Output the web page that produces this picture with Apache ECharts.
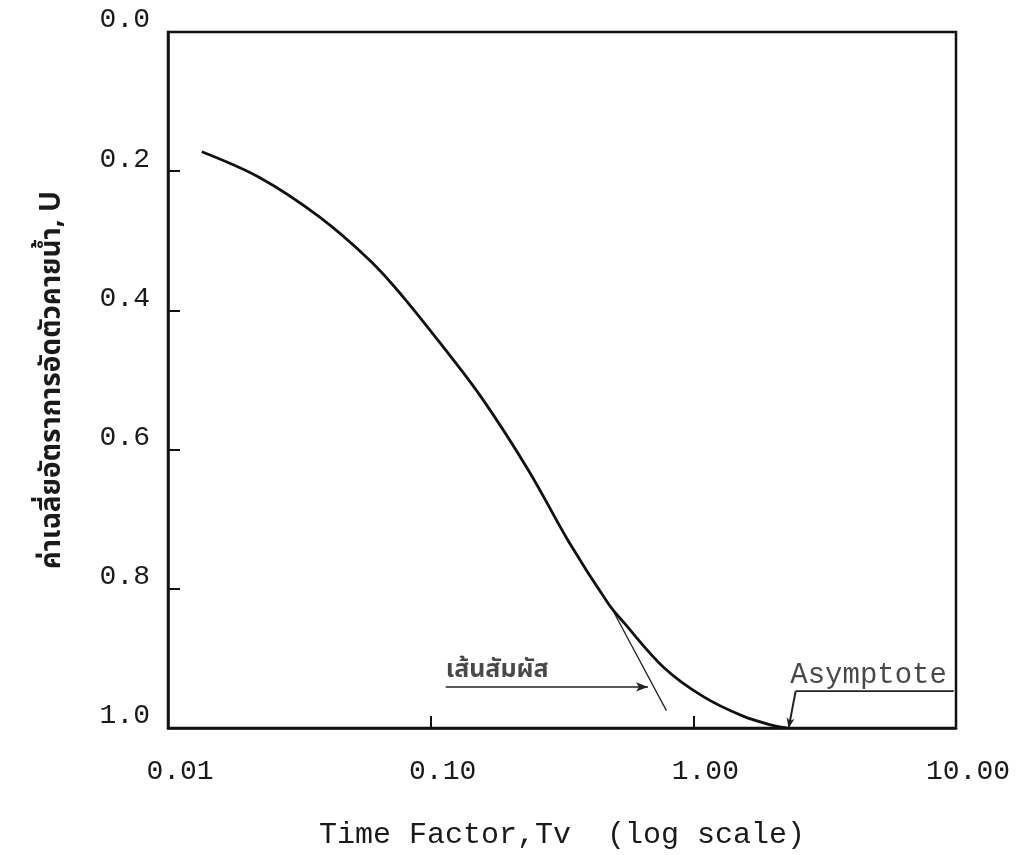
<!DOCTYPE html>
<html>
<head>
<meta charset="utf-8">
<title>Time Factor vs U</title>
<script src="https://cdn.jsdelivr.net/npm/echarts@6/dist/echarts.min.js"></script>
<style>
  html, body { margin: 0; padding: 0; background: #fff; }
  #chart { width: 1024px; height: 855px; }
</style>
</head>
<body>
<div id="chart"></div>
<script>
// degree of consolidation curve
var tvValues = [0.01345, 0.0223, 0.0375, 0.0590, 0.0779, 0.1103, 0.156, 0.2368, 0.3351, 0.4742, 0.5452, 0.7718, 1.092, 1.547, 2.041, 2.265]
var uValues = [0.172, 0.209, 0.265, 0.329, 0.379, 0.450, 0.525, 0.631, 0.732, 0.821, 0.849, 0.913, 0.955, 0.983, 0.997, 1.0]

// tangent (เส้นสัมผัส)
var tangentTv = [0.4825, 0.79]
var tangentU = [0.824, 0.975]

// pointer to the tangent
var tangentArrowTv = [0.1141, 0.672]
var tangentArrowU = [0.941, 0.941]
var tangentLabelTv = 0.1141
var tangentLabelU = 0.92

// asymptote pointer
var asymLineTv = [9.8, 2.452]
var asymLineU = [0.947, 0.947]
var asymArrowTv = [2.452, 2.306]
var asymArrowU = [0.947, 1.0]
var asymLabelTv = 2.339
var asymLabelU = 0.924

var xTicks = ['0.01', '0.10', '1.00', '10.00']
var yTicks = ['0.0', '0.2', '0.4', '0.6', '0.8', '1.0']

var monoFont = '"Liberation Mono", "DejaVu Sans Mono", monospace'
var thaiFont = '"Noto Sans Thai", "Loma", "Garuda", "Tlwg Typo", "Norasi", "DejaVu Sans", sans-serif'

function pairs(xs, ys) {
  return xs.map(function (x, i) { return [x, ys[i]] })
}

var chart = echarts.init(document.getElementById('chart'), null, { renderer: 'canvas' })

var option = {
  backgroundColor: '#fff',
  animation: false,
  grid: {
    left: 168,
    right: 68,
    top: 32,
    bottom: 125,
    show: true,
    borderColor: '#111',
    borderWidth: 2.5
  },
  xAxis: {
    type: 'log',
    logBase: 10,
    min: 0.01,
    max: 10,
    position: 'bottom',
    name: 'Time Factor,Tv  (log scale)',
    nameLocation: 'middle',
    nameGap: 92,
    nameTextStyle: { fontFamily: monoFont, fontSize: 30, color: '#1a1a1a' },
    axisLine: { onZero: false, lineStyle: { color: '#111', width: 2.5 } },
    axisTick: { inside: true, length: 12, lineStyle: { color: '#111', width: 2 } },
    minorTick: { show: false },
    splitLine: { show: false },
    axisLabel: {
      margin: 30,
      padding: [0, 0, 0, 24],
      fontFamily: monoFont,
      fontSize: 28,
      color: '#1a1a1a',
      showMinLabel: true,
      showMaxLabel: true,
      formatter: function (v) {
        var i = Math.round(Math.log10(v)) + 2
        return xTicks[i] || ''
      }
    }
  },
  yAxis: {
    type: 'value',
    inverse: true,
    min: 0,
    max: 1,
    interval: 0.2,
    name: 'ค่าเฉลี่ยอัตราการอัดตัวคายน้ำ, U',
    nameLocation: 'middle',
    nameGap: 100,
    nameTextStyle: { fontFamily: thaiFont, fontSize: 28, fontWeight: 'bold', color: '#1a1a1a' },
    axisLine: { onZero: false, lineStyle: { color: '#111', width: 2.5 } },
    axisTick: { inside: true, length: 12, lineStyle: { color: '#111', width: 2 } },
    splitLine: { show: false },
    axisLabel: {
      margin: 18,
      verticalAlign: 'bottom',
      lineHeight: 24,
      fontFamily: monoFont,
      fontSize: 28,
      color: '#1a1a1a',
      formatter: function (v) {
        return yTicks[Math.round(v / 0.2)]
      }
    }
  },
  series: [
    {
      name: 'U',
      type: 'line',
      smooth: 0.35,
      showSymbol: false,
      data: pairs(tvValues, uValues),
      lineStyle: { color: '#111', width: 2.8 },
      z: 5
    },
    {
      name: 'tangent',
      type: 'line',
      showSymbol: false,
      data: pairs(tangentTv, tangentU),
      lineStyle: { color: '#222', width: 1.3 }
    },
    {
      name: 'tangentArrow',
      type: 'line',
      showSymbol: false,
      data: [],
      markLine: {
        silent: true,
        symbol: ['none', 'arrow'],
        symbolSize: [7, 12],
        label: { show: false },
        lineStyle: { color: '#222', width: 1.6, type: 'solid' },
        data: [[
          { coord: [tangentArrowTv[0], tangentArrowU[0]] },
          { coord: [tangentArrowTv[1], tangentArrowU[1]] }
        ]]
      }
    },
    {
      name: 'asymLine',
      type: 'line',
      showSymbol: false,
      data: pairs(asymLineTv, asymLineU),
      lineStyle: { color: '#222', width: 1.8 },
      markLine: {
        silent: true,
        symbol: ['none', 'arrow'],
        symbolSize: [6, 10],
        label: { show: false },
        lineStyle: { color: '#222', width: 2, type: 'solid' },
        data: [[
          { coord: [asymArrowTv[0], asymArrowU[0]] },
          { coord: [asymArrowTv[1], asymArrowU[1]] }
        ]]
      }
    },
    {
      name: 'labels',
      type: 'scatter',
      symbolSize: 0,
      silent: true,
      data: [
        {
          value: [tangentLabelTv, tangentLabelU],
          label: {
            show: true,
            position: 'right',
            distance: 0,
            formatter: 'เส้นสัมผัส',
            fontFamily: thaiFont,
            fontSize: 25,
            fontWeight: 'bold',
            color: '#1a1a1a'
          }
        },
        {
          value: [asymLabelTv, asymLabelU],
          label: {
            show: true,
            position: 'right',
            distance: 0,
            formatter: 'Asymptote',
            fontFamily: monoFont,
            fontSize: 29,
            color: '#1a1a1a'
          }
        }
      ]
    }
  ]
}

chart.setOption(option)
</script>
</body>
</html>
